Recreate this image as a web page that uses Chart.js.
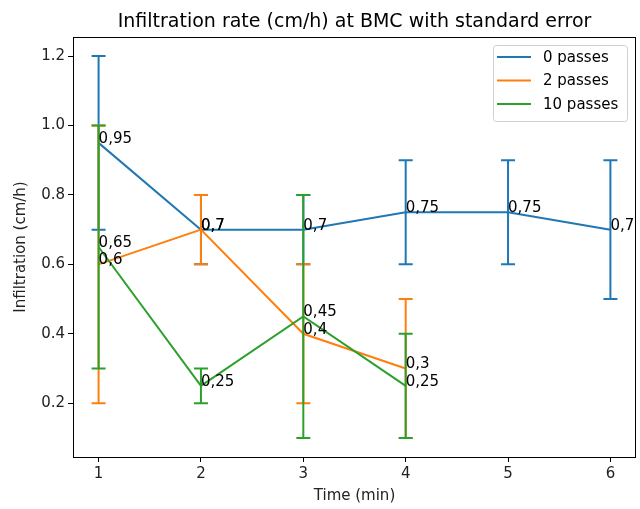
<!DOCTYPE html>
<html>
<head>
<meta charset="utf-8">
<script src="https://cdn.jsdelivr.net/npm/chart.js@4"></script>
<style>
  body { margin: 0; background: #fff; }
  canvas { display: block; }
</style>
</head>
<body>
<canvas id="chartInfiltracion" width="640" height="509"></canvas>
<script>
// datos
const tiempos = [1, 2, 3, 4, 5, 6];
const nombresSeries = ['0 passes', '2 passes', '10 passes'];
const pases0 = [0.95, 0.7, 0.7, 0.75, 0.75, 0.7];
const error0 = [0.25, 0.1, 0.1, 0.15, 0.15, 0.2];
const pases2 = [0.6, 0.7, 0.4, 0.3];
const error2 = [0.4, 0.1, 0.2, 0.2];
const pases10 = [0.65, 0.25, 0.45, 0.25];
const error10 = [0.35, 0.05, 0.35, 0.15];
const ticksX = [1, 2, 3, 4, 5, 6];
const ticksY = [0.2, 0.4, 0.6, 0.8, 1.0, 1.2];

const colores = ['#1f77b4', '#ff7f0e', '#2ca02c'];
const valores = [pases0, pases2, pases10];
const errores = [error0, error2, error10];
const fuente = 'DejaVu Sans, sans-serif';
const tamTexto = 15;

const puntos = vals => vals.map((v, i) => ({ x: tiempos[i], y: v }));

// barras de error por serie
const barrasError = {
  id: 'barrasError',
  afterDatasetDraw(chart, args) {
    const i = args.index;
    const ctx = chart.ctx;
    const xs = chart.scales.x, ys = chart.scales.y;
    ctx.save();
    ctx.strokeStyle = colores[i];
    ctx.lineWidth = 2;
    valores[i].forEach((v, j) => {
      const px = xs.getPixelForValue(tiempos[j]);
      const top = ys.getPixelForValue(v + errores[i][j]);
      const bot = ys.getPixelForValue(v - errores[i][j]);
      ctx.beginPath();
      ctx.moveTo(px, top); ctx.lineTo(px, bot);
      ctx.moveTo(px - 7, top); ctx.lineTo(px + 7, top);
      ctx.moveTo(px - 7, bot); ctx.lineTo(px + 7, bot);
      ctx.stroke();
    });
    ctx.restore();
  }
};

// etiquetas, marco, titulo y leyenda
const extras = {
  id: 'extras',
  afterDatasetsDraw(chart) {
    const ctx = chart.ctx;
    const xs = chart.scales.x, ys = chart.scales.y;
    ctx.save();
    ctx.font = tamTexto + 'px ' + fuente;
    ctx.fillStyle = '#000';
    ctx.textAlign = 'left';
    ctx.textBaseline = 'alphabetic';
    valores.forEach(serie => {
      serie.forEach((v, j) => {
        ctx.fillText(String(v).replace('.', ','), xs.getPixelForValue(tiempos[j]), ys.getPixelForValue(v));
      });
    });
    ctx.restore();
  },
  afterDraw(chart) {
    const ctx = chart.ctx;
    const a = chart.chartArea;
    ctx.save();
    ctx.strokeStyle = '#000';
    ctx.lineWidth = 1;
    ctx.strokeRect(Math.round(a.left) + 0.5, Math.round(a.top) + 0.5,
      Math.round(a.right - a.left) - 1, Math.round(a.bottom - a.top));

    ctx.fillStyle = '#000';
    ctx.font = '19px ' + fuente;
    ctx.textAlign = 'center';
    ctx.textBaseline = 'alphabetic';
    ctx.fillText('Infiltration rate (cm/h) at BMC with standard error', (a.left + a.right) / 2, 27);

    // leyenda
    const lx = 493, ly = 45, lw = 134, lh = 76;
    ctx.beginPath();
    ctx.roundRect(lx + 0.5, ly + 0.5, lw, lh, 3);
    ctx.fillStyle = 'rgba(255,255,255,0.8)';
    ctx.fill();
    ctx.strokeStyle = '#d0d0d0';
    ctx.stroke();
    ctx.font = tamTexto + 'px ' + fuente;
    ctx.textAlign = 'left';
    ctx.textBaseline = 'middle';
    chart.data.datasets.forEach((ds, i) => {
      const y = 57 + i * 23.5;
      ctx.strokeStyle = ds.borderColor;
      ctx.lineWidth = 2;
      ctx.beginPath();
      ctx.moveTo(497, y); ctx.lineTo(531, y);
      ctx.stroke();
      ctx.fillStyle = '#000';
      ctx.fillText(ds.label, 543, y + 1);
    });
    ctx.restore();
  }
};

const ctxInf = document.getElementById('chartInfiltracion').getContext('2d');

new Chart(ctxInf, {
  type: 'line',
  data: {
    datasets: nombresSeries.map((nombre, i) => ({
      label: nombre,
      data: puntos(valores[i]),
      borderColor: colores[i],
      backgroundColor: colores[i],
      borderWidth: 2,
      pointRadius: 0,
      tension: 0,
      fill: false,
      order: 3 - i
    }))
  },
  options: {
    responsive: false,
    animation: false,
    layout: { padding: { top: 37, right: 4, left: 0, bottom: 0 } },
    plugins: {
      legend: { display: false },
      title: { display: false },
      tooltip: { enabled: false }
    },
    scales: {
      x: {
        type: 'linear',
        min: 0.75,
        max: 6.25,
        afterBuildTicks: s => { s.ticks = ticksX.map(v => ({ value: v })); },
        afterFit: s => { s.height = 52; },
        grid: { drawOnChartArea: false, drawTicks: true, tickLength: 5, tickColor: '#000', tickWidth: 1 },
        border: { display: false },
        ticks: { color: '#222', font: { family: fuente, size: tamTexto }, padding: 3, maxRotation: 0 },
        title: { display: true, text: 'Time (min)', color: '#222', font: { family: fuente, size: tamTexto }, padding: { top: 0, bottom: 4 } }
      },
      y: {
        type: 'linear',
        min: 0.045,
        max: 1.255,
        afterBuildTicks: s => { s.ticks = ticksY.map(v => ({ value: v })); },
        afterFit: s => { s.width = 73; },
        grid: { drawOnChartArea: false, drawTicks: true, tickLength: 5, tickColor: '#000', tickWidth: 1 },
        border: { display: false },
        ticks: { color: '#222', font: { family: fuente, size: tamTexto }, padding: 3, callback: v => v.toFixed(1) },
        title: { display: true, text: 'Infiltration (cm/h)', color: '#222', font: { family: fuente, size: tamTexto }, padding: { top: 12, bottom: 0 } }
      }
    }
  },
  plugins: [barrasError, extras]
});
</script>
</body>
</html>
